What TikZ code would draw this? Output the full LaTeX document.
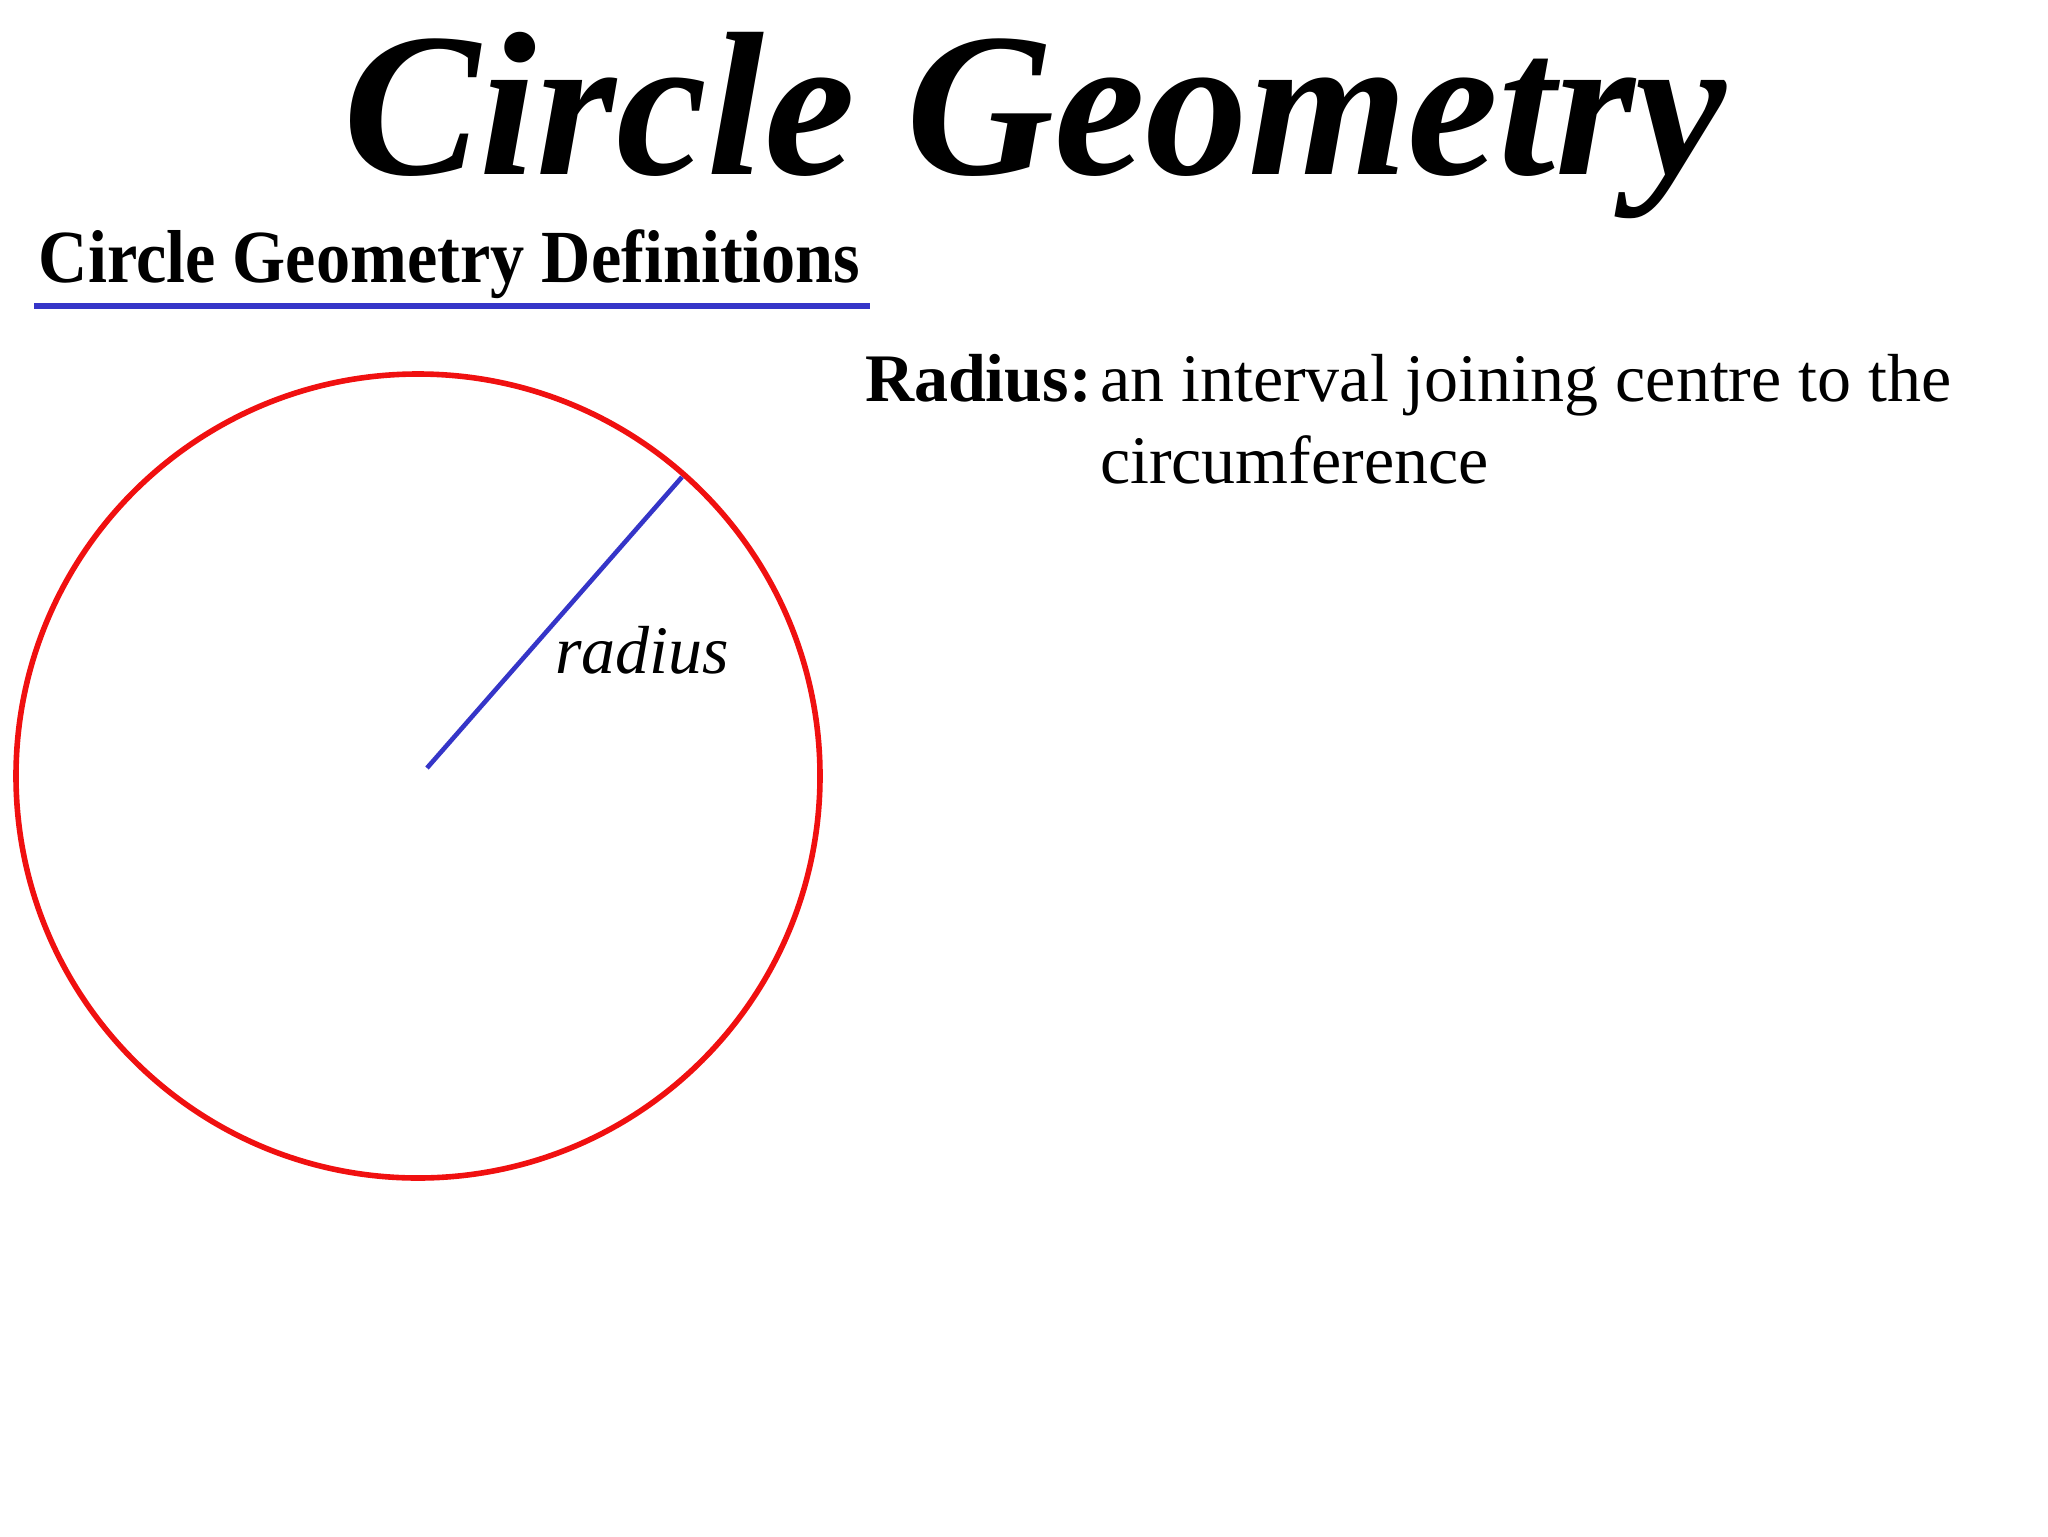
\documentclass[tikz,border=0pt]{standalone}
\usepackage{fontspec}
\setmainfont{Liberation Serif}
\definecolor{circred}{HTML}{F01010}
\definecolor{lineblue}{HTML}{3535C8}
\begin{document}
\begin{tikzpicture}[x=0.5pt,y=-0.5pt,
  txt/.style={inner sep=0pt, outer sep=0pt, anchor=base west},
  titlestyle/.style={txt, font=\fontsize{102.5}{110}\selectfont\bfseries\itshape},
  subtitlestyle/.style={txt, font=\fontsize{37.5}{42}\selectfont\bfseries\addfontfeatures{FakeStretch=0.91}},
  bodystyle/.style={txt, font=\fontsize{34}{40}\selectfont},
  labelstyle/.style={txt, font=\fontsize{34}{40}\selectfont\itshape}]
\fill[white] (0,0) rectangle (2048,1536);
\useasboundingbox (0,0) rectangle (2048,1536);
% titles
\node[titlestyle] (title) at (343,174) {Circle Geometry};
\node[subtitlestyle] (subtitle) at (39,282) {Circle Geometry Definitions};
\draw[lineblue, line width=2.9pt] (34,306) -- (870,306);
% circle
\coordinate (c) at (418,776);
\draw[circred, line width=2.8pt] (c) circle[radius=402];
\coordinate (rs) at (427,768);
\coordinate (re) at (682,477);
\draw[lineblue, line width=2.3pt] (rs) -- (re);
\node[labelstyle] (rlabel) at (555,673) {radius};
% definition
\node[bodystyle, font=\fontsize{34}{40}\selectfont\bfseries] (rhead) at (865,401) {Radius:};
\node[bodystyle] (def1) at (1100,401) {an interval joining centre to the};
\node[bodystyle] (def2) at (1100,483) {circumference};
\end{tikzpicture}
\end{document}
